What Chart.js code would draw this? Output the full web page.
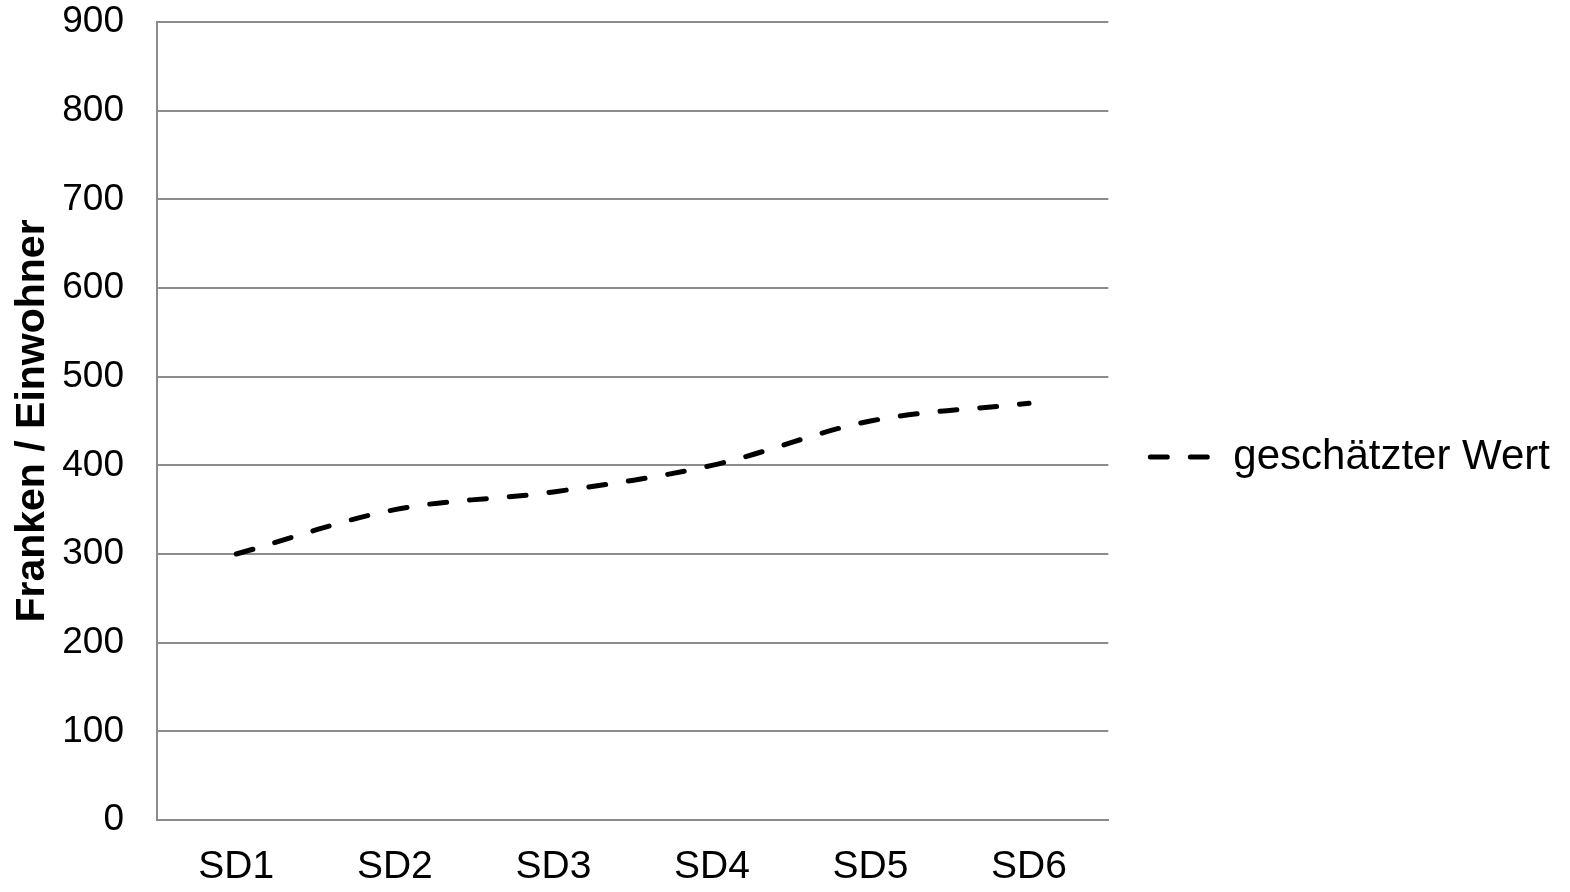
<!DOCTYPE html>
<html>
<head>
<meta charset="utf-8">
<script src="https://cdn.jsdelivr.net/npm/chart.js@4"></script>
<style>
html,body{margin:0;padding:0;background:#fff;}
#wrap{width:1570px;height:892px;position:relative;}
</style>
</head>
<body>
<div id="wrap"><canvas id="c" width="1570" height="892"></canvas></div>
<script>
const categories = ["SD1", "SD2", "SD3", "SD4", "SD5", "SD6"];
const estimatedValues = [300, 350, 370, 400, 450, 470];
const seriesLabel = "geschätzter Wert";
const yTitle = "Franken / Einwohner";
const yMin = 0, yMax = 900, yStep = 100;

const FONT = "'Liberation Sans', Arial, sans-serif";
const GRID = "#8c8c8c";

new Chart(document.getElementById("c"), {
  type: "line",
  data: {
    labels: categories,
    datasets: [{
      label: seriesLabel,
      data: estimatedValues,
      borderColor: "#000",
      backgroundColor: "#000",
      borderWidth: 5,
      borderDash: [17, 23],
      borderCapStyle: "round",
      pointRadius: 0,
      pointStyle: "line",
      tension: 0.35,
      fill: false
    }]
  },
  options: {
    responsive: false,
    animation: false,
    devicePixelRatio: 1,
    layout: { padding: { top: 22, left: 0, right: 10, bottom: 0 } },
    plugins: {
      tooltip: { enabled: false },
      legend: {
        position: "right",
        maxWidth: 600,
        labels: {
          usePointStyle: true,
          pointStyleWidth: 62,
          padding: 42,
          color: "#000",
          font: { family: FONT, size: 42 },
          generateLabels: (chart) => {
            const items = Chart.defaults.plugins.legend.labels.generateLabels(chart);
            items.forEach((it) => {
              const ds = chart.data.datasets[it.datasetIndex];
              it.lineDash = ds.borderDash;
              it.lineCap = ds.borderCapStyle;
              it.lineWidth = ds.borderWidth;
              it.strokeStyle = ds.borderColor;
              it.pointStyle = "line";
            });
            return items;
          }
        }
      }
    },
    scales: {
      x: {
        offset: true,
        grid: { display: false, drawTicks: false },
        border: { display: true, color: GRID, width: 2 },
        ticks: { color: "#000", padding: 24, font: { family: FONT, size: 39 }, maxRotation: 0 },
        afterFit: (s) => { s.height = 72; s.paddingLeft = 0; s.paddingRight = 0; }
      },
      y: {
        min: yMin, max: yMax,
        grid: { color: GRID, lineWidth: 2, drawTicks: false },
        border: { display: true, color: GRID, width: 2 },
        ticks: { stepSize: yStep, color: "#000", padding: 33, font: { family: FONT, size: 37 } },
        title: {
          display: true,
          text: yTitle,
          color: "#000",
          padding: { top: 8, bottom: 0 },
          font: { family: FONT, size: 41, weight: "bold" }
        },
        afterFit: (s) => { s.width = 157; s.paddingTop = 0; s.paddingBottom = 0; }
      }
    }
  }
});
</script>
</body>
</html>
